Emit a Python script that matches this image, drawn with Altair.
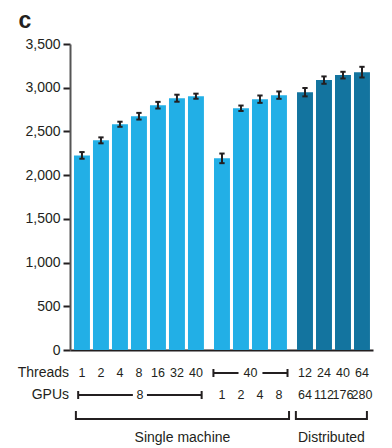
import altair as alt
import pandas as pd

# ---- data ----
threads = ["1", "2", "4", "8", "16", "32", "40", "", "", "", "", "12", "24", "40", "64"]
gpus = ["", "", "", "", "", "", "", "1", "2", "4", "8", "64", "112", "176", "280"]
values = [2226, 2398, 2582, 2674, 2800, 2880, 2903, 2192, 2765, 2869, 2915, 2949, 3087, 3144, 3178]
errors = [38, 34, 29, 38, 38, 40, 29, 55, 31, 42, 42, 48, 42, 38, 61]
kinds = ["single"] * 11 + ["distributed"] * 4
group_index = [0] * 7 + [1] * 4 + [2] * 4
y_ticks = [0, 500, 1000, 1500, 2000, 2500, 3000, 3500]
threads_shared = "40"   # threads for GPU sweep group
gpus_shared = "8"       # GPUs for thread sweep group
bottom_labels = ["Single machine", "Distributed"]

FONT = "Liberation Sans"
INK = "#231f20"
GAP = 0.37
HALF = 0.42

pos = [i + g * GAP for i, g in enumerate(group_index)]
df = pd.DataFrame({
    "pos": pos, "value": values, "err": errors, "kind": kinds,
    "threads": threads, "gpus": gpus,
})
df["x0"] = df["pos"] - HALF
df["x1"] = df["pos"] + HALF
df["lo"] = df["value"] - df["err"]
df["hi"] = df["value"] + df["err"]
df["c0"] = df["pos"] - 0.14
df["c1"] = df["pos"] + 0.14

xscale = alt.Scale(domain=[-0.63, 15.32], nice=False, zero=False)
yscale = alt.Scale(domain=[0, 3500], nice=False)

bars = alt.Chart(df).mark_bar().encode(
    x=alt.X("x0:Q", scale=xscale,
            axis=alt.Axis(labels=False, ticks=False, title=None, grid=False,
                          domainColor=INK, domainWidth=2)),
    x2="x1:Q",
    y=alt.Y("value:Q", scale=yscale,
            axis=alt.Axis(values=y_ticks, format=",d", title=None, grid=False,
                          labelFont=FONT, labelFontSize=14, labelColor=INK,
                          labelPadding=3, domainColor="#555555", domainWidth=2,
                          tickColor=INK, tickWidth=2, tickSize=7)),
    y2=alt.datum(0),
    color=alt.Color("kind:N", scale=alt.Scale(domain=["single", "distributed"],
                                              range=["#22afe6", "#13749f"]),
                    legend=None),
)

err_line = alt.Chart(df).mark_rule(color=INK, strokeWidth=2).encode(
    x=alt.X("pos:Q", scale=xscale), y=alt.Y("lo:Q", scale=yscale), y2="hi:Q")
cap_lo = alt.Chart(df).mark_rule(color=INK, strokeWidth=2).encode(
    x=alt.X("c0:Q", scale=xscale), x2="c1:Q", y=alt.Y("lo:Q", scale=yscale))
cap_hi = alt.Chart(df).mark_rule(color=INK, strokeWidth=2).encode(
    x=alt.X("c0:Q", scale=xscale), x2="c1:Q", y=alt.Y("hi:Q", scale=yscale))

# ---- annotation rows under the axis (y in pixels from plot top) ----
Y_THREADS, Y_GPUS, Y_BRACKET, Y_BOTTOM = 329, 351, 375, 394

g1s, g1e = pos[0] - 0.2, pos[6] + 0.3
g2s, g2e = pos[7] - 0.45, pos[10] + 0.45
g1m, g2m = (g1s + g1e) / 2, (g2s + g2e) / 2
sm_s, sm_e = pos[0] - 0.32, pos[10] + 0.53
di_s, di_e = pos[11] - 0.48, pos[14] + 0.26

hsegs = pd.DataFrame({
    "x": [g2s, g2m + 0.63, g1s, g1m + 0.37, sm_s, di_s],
    "x2": [g2m - 0.63, g2e, g1m - 0.37, g1e, sm_e, di_e],
    "y": [Y_THREADS, Y_THREADS, Y_GPUS, Y_GPUS, Y_BRACKET, Y_BRACKET],
})
vsegs = pd.DataFrame({
    "x": [g2s, g2e, g1s, g1e, sm_s, sm_e, di_s, di_e],
    "y": [Y_THREADS - 4, Y_THREADS - 4, Y_GPUS - 4, Y_GPUS - 4,
          Y_BRACKET - 8, Y_BRACKET - 8, Y_BRACKET - 8, Y_BRACKET - 8],
    "y2": [Y_THREADS + 4, Y_THREADS + 4, Y_GPUS + 4, Y_GPUS + 4,
           Y_BRACKET + 1, Y_BRACKET + 1, Y_BRACKET + 1, Y_BRACKET + 1],
})

hrule = alt.Chart(hsegs).mark_rule(color=INK, strokeWidth=2).encode(
    x=alt.X("x:Q", scale=xscale), x2="x2:Q",
    y=alt.Y("y:Q", scale=None, axis=None))
vrule = alt.Chart(vsegs).mark_rule(color=INK, strokeWidth=2).encode(
    x=alt.X("x:Q", scale=xscale),
    y=alt.Y("y:Q", scale=None, axis=None), y2="y2:Q")

num_rows = pd.concat([
    pd.DataFrame({"x": df["pos"], "y": Y_THREADS, "t": df["threads"]}),
    pd.DataFrame({"x": df["pos"], "y": Y_GPUS, "t": df["gpus"]}),
    pd.DataFrame({"x": [g2m, g1m], "y": [Y_THREADS, Y_GPUS],
                  "t": [threads_shared, gpus_shared]}),
])
num_rows = num_rows[num_rows["t"] != ""]

nums = alt.Chart(num_rows).mark_text(font=FONT, fontSize=12.5, color=INK,
                                     baseline="middle").encode(
    x=alt.X("x:Q", scale=xscale), y=alt.Y("y:Q", scale=None, axis=None), text="t:N")

row_titles = alt.Chart(pd.DataFrame({"y": [Y_THREADS, Y_GPUS], "t": ["Threads", "GPUs"]})
                       ).mark_text(font=FONT, fontSize=14, color=INK, align="right",
                                   baseline="middle").encode(
    x=alt.value(-1), y=alt.Y("y:Q", scale=None, axis=None), text="t:N")

bottom = alt.Chart(pd.DataFrame({"x": [(sm_s + sm_e) / 2, (di_s + di_e) / 2],
                                 "y": [Y_BOTTOM, Y_BOTTOM], "t": bottom_labels})
                   ).mark_text(font=FONT, fontSize=14, color=INK,
                               baseline="middle").encode(
    x=alt.X("x:Q", scale=xscale), y=alt.Y("y:Q", scale=None, axis=None), text="t:N")

panel = alt.Chart(pd.DataFrame({"t": ["c"]})).mark_text(
    font=FONT, fontSize=23, fontWeight="bold", color=INK, align="center",
    baseline="alphabetic").encode(x=alt.value(-45), y=alt.value(-16), text="t:N")

chart = alt.layer(bars, err_line, cap_lo, cap_hi, hrule, vrule, nums,
                  row_titles, bottom, panel).properties(
    width=303, height=306,
    autosize=alt.AutoSizeParams(type="none"),
    padding={"left": 62, "top": 36, "right": 11, "bottom": 98},
).configure_view(stroke=None)

chart.save("out.html", embed_options={"renderer": "svg", "actions": False})
